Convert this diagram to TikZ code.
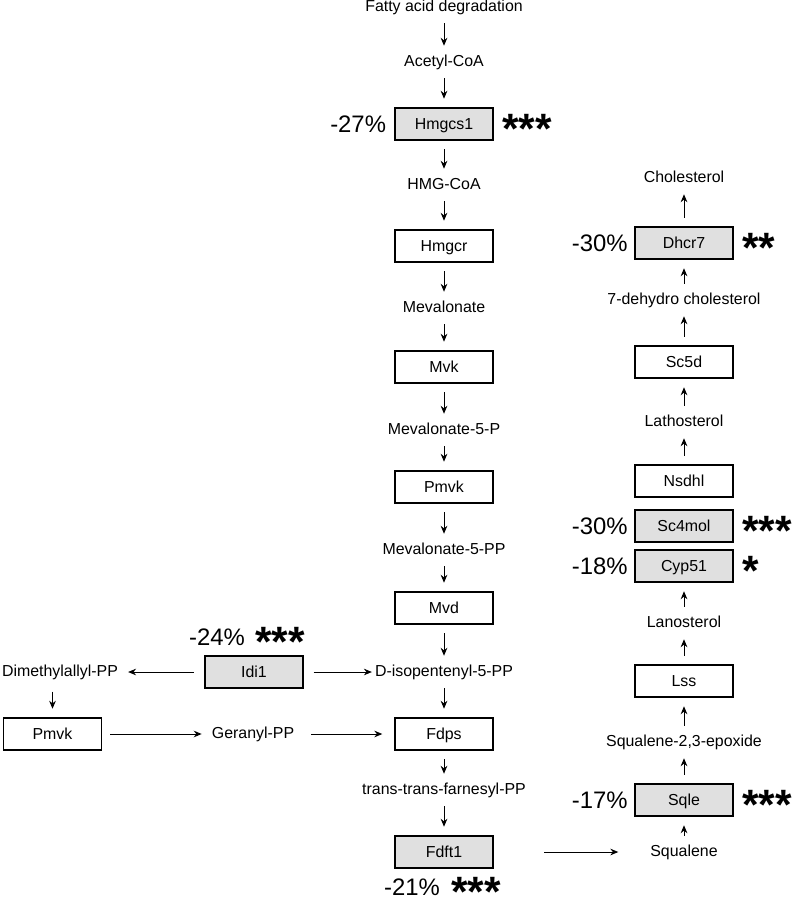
\documentclass[tikz,border=0pt]{standalone}
\usepackage{fontspec}
\setmainfont{Liberation Sans}
\usetikzlibrary{positioning,arrows.meta}

\begin{document}
\begin{tikzpicture}[
  x=0.0265cm, y=-0.0265cm,
  font=\fontsize{12pt}{14pt}\selectfont,
  node distance=6pt,
  metab/.style={inner sep=0pt,text height=8.6pt,text depth=2.5pt},
  enzyme/.style={draw,line width=1.1pt,minimum width=74pt,minimum height=24pt,
    inner sep=0pt,text height=8.6pt,text depth=0pt},
  hit/.style={enzyme,fill=black!12},
  pct/.style={inner sep=0pt,font=\fontsize{18pt}{20pt}\selectfont},
  stars/.style={inner sep=0pt,text height=9.6pt,text depth=0pt,yshift=-10.1pt,
    font=\bfseries\fontsize{32pt}{34pt}\selectfont},
  arr/.style={-{Stealth[length=6pt,width=5pt]},line width=.7pt,
    shorten <=6.5pt,shorten >=6.5pt}
]
  \useasboundingbox (0,0) rectangle (795,899);

  % Main pathway
  \begin{scope}
    \node[metab] (fatty) at (444,7) {Fatty acid degradation};
    \node[metab] (acetyl) at (444,62) {Acetyl-CoA};
    \node[hit] (hmgcs1) at (444,124) {Hmgcs1};
    \node[metab] (hmgcoa) at (444,185) {HMG-CoA};
    \node[enzyme] (hmgcr) at (444,246) {Hmgcr};
    \node[metab] (meva) at (444,308) {Mevalonate};
    \node[enzyme] (mvk) at (444,367) {Mvk};
    \node[metab] (meva5p) at (444,430) {Mevalonate-5-P};
    \node[enzyme] (pmvk) at (444,487) {Pmvk};
    \node[metab] (meva5pp) at (444,550) {Mevalonate-5-PP};
    \node[enzyme] (mvd) at (444,608) {Mvd};
    \node[metab] (ipp) at (444,672) {D-isopentenyl-5-PP};
    \node[enzyme] (fdps) at (444,734) {Fdps};
    \node[metab] (fpp) at (444,790) {trans-trans-farnesyl-PP};
    \node[hit] (fdft1) at (444,852) {Fdft1};

    % Arrows
    \foreach \a/\b in {fatty/acetyl,acetyl/hmgcs1,hmgcs1/hmgcoa,hmgcoa/hmgcr,
      hmgcr/meva,meva/mvk,mvk/meva5p,meva5p/pmvk,pmvk/meva5pp,meva5pp/mvd,
      mvd/ipp,ipp/fdps,fdps/fpp,fpp/fdft1}
      \draw[arr] (\a) -- (\b);

    % Labels
    \node[pct,left=of hmgcs1] (hmgcs1 pct) {-27\%};
    \node[stars,right=of hmgcs1] (hmgcs1 stars) {***};
    \node[pct] (fdft1 pct) at (412,887) {-21\%};
    \node[stars,right=8pt of fdft1 pct] (fdft1 stars) {***};
  \end{scope}

  % Side branch
  \begin{scope}
    \node[metab] (dmapp) at (60,672) {Dimethylallyl-PP};
    \node[hit] (idi1) at (254,672) {Idi1};
    \node[enzyme] (pmvk side) at (52.5,734) {Pmvk};
    \node[metab] (gpp) at (253,734) {Geranyl-PP};

    % Arrows
    \draw[arr,shorten <=8pt,shorten >=7.5pt] (idi1) -- (dmapp);
    \draw[arr,shorten <=7.5pt,shorten >=2.2pt] (idi1) -- (ipp);
    \draw[arr,shorten <=9pt] (dmapp.south -| pmvk side) -- (pmvk side);
    \draw[arr,shorten <=6pt,shorten >=7.5pt] (pmvk side) -- (gpp);
    \draw[arr,shorten <=12.8pt,shorten >=9pt] (gpp) -- (fdps);

    % Labels
    \node[pct] (idi1 pct) at (217,637) {-24\%};
    \node[stars,right=7.5pt of idi1 pct] (idi1 stars) {***};
  \end{scope}

  % Sterol branch
  \begin{scope}
    \node[metab] (chol) at (684,178) {Cholesterol};
    \node[hit] (dhcr7) at (684,243) {Dhcr7};
    \node[metab] (dehydro) at (684,300) {7-dehydro cholesterol};
    \node[enzyme] (sc5d) at (684,362) {Sc5d};
    \node[metab] (latho) at (684,422) {Lathosterol};
    \node[enzyme] (nsdhl) at (684,481) {Nsdhl};
    \node[hit] (sc4mol) at (684,526) {Sc4mol};
    \node[hit] (cyp51) at (684,566) {Cyp51};
    \node[metab] (lano) at (684,623) {Lanosterol};
    \node[enzyme] (lss) at (684,681) {Lss};
    \node[metab] (epox) at (684,742) {Squalene-2,3-epoxide};
    \node[hit] (sqle) at (684,800) {Sqle};
    \node[metab] (squalene) at (684,852) {Squalene};

    % Arrows
    \draw[arr,shorten <=38pt,shorten >=24pt] (fdft1) -- (squalene);
    \foreach \a/\b in {squalene/sqle,sqle/epox,epox/lss,lss/lano,lano/cyp51,
      nsdhl/latho,latho/sc5d,sc5d/dehydro,dehydro/dhcr7,dhcr7/chol}
      \draw[arr] (\a) -- (\b);

    % Labels
    \foreach \e/\p/\s in {dhcr7/-30/**,sc4mol/-30/***,cyp51/-18/*,sqle/-17/***}{
      \node[pct,left=4.7pt of \e] (\e\space pct) {\p\%};
      \node[stars,right=of \e] (\e\space stars) {\s};
    }
  \end{scope}
\end{tikzpicture}
\end{document}
